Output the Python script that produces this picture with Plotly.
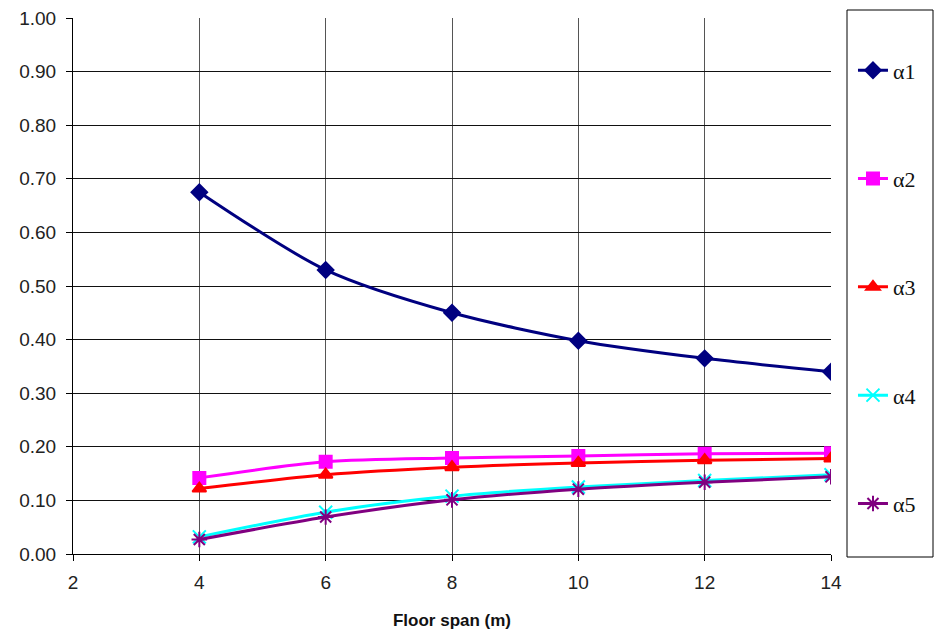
import plotly.graph_objects as go

# Floor span (m) and alpha coefficients
spans = [4, 6, 8, 10, 12, 14]
alpha1 = [0.675, 0.530, 0.450, 0.398, 0.365, 0.340]
alpha2 = [0.142, 0.172, 0.179, 0.183, 0.187, 0.188]
alpha3 = [0.122, 0.148, 0.162, 0.170, 0.175, 0.178]
alpha4 = [0.032, 0.078, 0.108, 0.125, 0.137, 0.148]
alpha5 = [0.027, 0.069, 0.101, 0.121, 0.134, 0.144]

series = [
    ("α1", alpha1, "#000080", "diamond", 12),
    ("α2", alpha2, "#FF00FF", "square", 12),
    ("α3", alpha3, "#FF0000", "triangle-up", 12),
    ("α4", alpha4, "#00FFFF", "x-thin-open", 13),
    ("α5", alpha5, "#800080", "asterisk-open", 13),
]

fig = go.Figure()
for i, (name, vals, color, symbol, size) in enumerate(series):
    fig.add_trace(go.Scatter(
        x=spans, y=vals, name=name, mode="lines+markers",
        line=dict(color=color, width=3, shape="spline", smoothing=0.8),
        marker=dict(symbol=symbol, size=size, color=color,
                    line=dict(color=color, width=2)),
        legendgroup=f"g{i}",
    ))

tick_font = dict(family="Liberation Sans, Arial, sans-serif", size=19, color="#222")

fig.update_layout(
    width=937, height=635,
    margin=dict(l=73, r=106, t=18, b=81),
    paper_bgcolor="white", plot_bgcolor="white",
    showlegend=True,
    legend=dict(
        x=1.029, xanchor="left", y=0.9413, yanchor="top",
        bgcolor="rgba(0,0,0,0)", borderwidth=0,
        font=dict(family="Liberation Serif, Times New Roman, serif", size=22, color="#111"),
        tracegroupgap=76.7, itemwidth=30,
    ),
    shapes=[dict(type="rect", xref="paper", yref="paper",
                 x0=(847 - 73) / 758, x1=(933 - 73) / 758,
                 y0=1 - (557 - 18) / 536, y1=1 + 8 / 536,
                 line=dict(color="black", width=1), fillcolor="rgba(0,0,0,0)")],
)

fig.update_xaxes(
    range=[2, 14], tickvals=[2, 4, 6, 8, 10, 12, 14],
    showgrid=True, gridcolor="#555", gridwidth=1,
    showline=True, linecolor="black", linewidth=1,
    ticks="outside", ticklen=6, tickcolor="black",
    tickfont=tick_font, zeroline=False, ticklabelstandoff=5,
    automargin=False,
    title=dict(text="<b>Floor span (m)</b>",
               font=dict(family="Liberation Sans, Arial, sans-serif", size=17, color="#111"),
               standoff=22),
)
fig.update_yaxes(
    range=[0, 1], tickvals=[i / 10 for i in range(11)], tickformat=".2f",
    showgrid=True, gridcolor="#111", gridwidth=1,
    showline=True, linecolor="black", linewidth=1,
    ticks="outside", ticklen=6, tickcolor="black",
    tickfont=tick_font, zeroline=False, ticklabelstandoff=6,
    automargin=False,
)

fig.write_html("out.html")
